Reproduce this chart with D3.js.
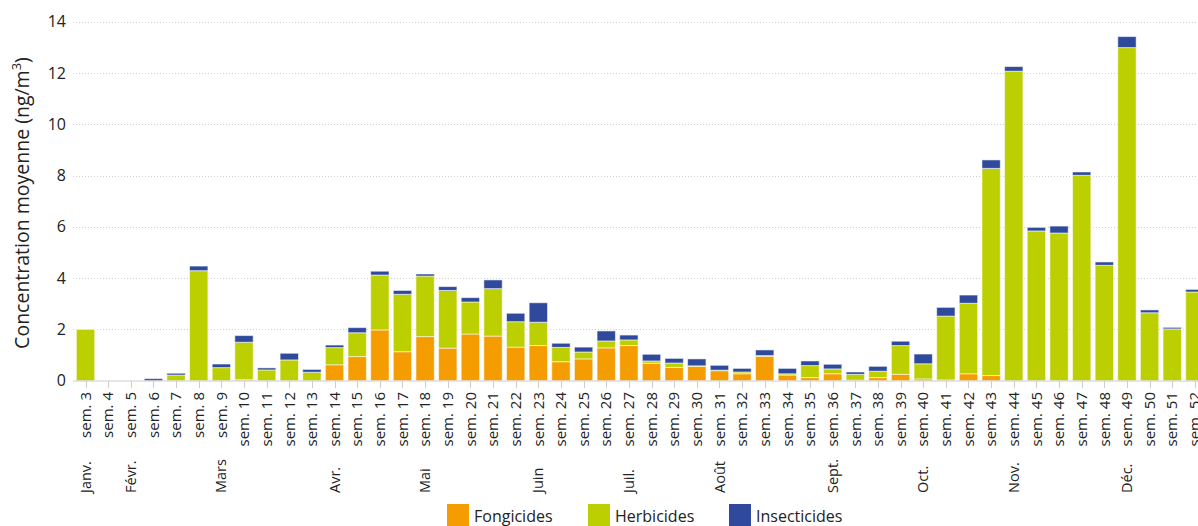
<!DOCTYPE html>
<html>
<head>
<meta charset="utf-8">
<script src="https://cdn.jsdelivr.net/npm/d3@7"></script>
<style>
  html, body { margin: 0; padding: 0; background: #fff; overflow: hidden; }
  svg { display: block; font-family: "Open Sans", "Noto Sans", sans-serif; }
</style>
</head>
<body>
<svg id="chart" width="1215" height="526"></svg>
<script>
// ---- data ----
const weeks = [3,4,5,6,7,8,9,10,11,12,13,14,15,16,17,18,19,20,21,22,23,24,25,26,27,28,29,30,31,32,33,34,35,36,37,38,39,40,41,42,43,44,45,46,47,48,49,50,51,52];
const weekLabels = weeks.map(w => "sem. " + w);
const fongicides = [0,0,0,0,0,0,0,0.04,0,0,0,0.62,0.94,1.98,1.13,1.72,1.27,1.82,1.74,1.31,1.37,0.74,0.85,1.28,1.37,0.68,0.52,0.56,0.39,0.27,0.95,0.22,0.12,0.27,0.02,0.12,0.25,0.07,0.03,0.27,0.20,0,0,0,0,0,0,0,0,0];
const herbicides = [2.0,0,0,0,0.22,4.29,0.51,1.46,0.42,0.81,0.33,0.67,0.93,2.14,2.24,2.36,2.25,1.25,1.85,0.99,0.91,0.56,0.27,0.27,0.22,0.09,0.17,0.02,0.02,0.07,0.03,0.05,0.47,0.19,0.23,0.25,1.12,0.59,2.49,2.75,8.08,12.07,5.84,5.76,8.01,4.50,12.99,2.65,2.02,3.46];
const insecticides = [0,0,0,0.08,0.07,0.18,0.14,0.26,0.08,0.26,0.11,0.10,0.20,0.15,0.15,0.08,0.15,0.17,0.34,0.33,0.76,0.16,0.19,0.39,0.19,0.26,0.18,0.27,0.19,0.14,0.22,0.21,0.18,0.18,0.09,0.19,0.17,0.38,0.34,0.32,0.33,0.18,0.14,0.27,0.13,0.13,0.43,0.11,0.06,0.10];
const seriesNames = ["Fongicides", "Herbicides", "Insecticides"];
const seriesColors = ["#F59C00", "#BCCF00", "#2F4A9C"];
const yTicks = [0,2,4,6,8,10,12,14];
const monthNames = ["Janv.","Févr.","Mars","Avr.","Mai","Juin","Juil.","Août","Sept.","Oct.","Nov.","Déc."];
const monthWeeks = [3,5,9,14,18,23,27,31,36,40,44,49];

// ---- build ----
const rows = weeks.map((w, i) => ({
  week: "sem. " + w,
  Fongicides: fongicides[i],
  Herbicides: herbicides[i],
  Insecticides: insecticides[i]
}));

const svg = d3.select("#chart");
const plotLeft = 73, plotRight = 1215;
const x0 = 74.2, x1 = 74.2 + 50 * 22.64;

const x = d3.scaleBand().domain(weekLabels).range([x0, x1]).paddingInner(0.19).paddingOuter(0.095);
const y = d3.scaleLinear().domain([0, 14]).range([380.7, 21.7]);
const color = d3.scaleOrdinal().domain(seriesNames).range(seriesColors);

// grid
svg.append("g").selectAll("line").data(yTicks.filter(t => t > 0)).join("line")
  .attr("x1", plotLeft).attr("x2", plotRight)
  .attr("y1", d => Math.round(y(d)) + 0.5).attr("y2", d => Math.round(y(d)) + 0.5)
  .attr("stroke", "#cfcfcf").attr("stroke-width", 1).attr("stroke-dasharray", "1,2");

// y labels
svg.append("g").selectAll("text").data(yTicks).join("text")
  .attr("x", 66).attr("y", d => y(d)).attr("dy", "0.35em")
  .attr("text-anchor", "end").attr("font-size", 16).attr("fill", "#222")
  .text(d => d);

// y title
const yt = svg.append("text")
  .attr("transform", "translate(29,203) rotate(-90)")
  .attr("text-anchor", "middle").attr("font-size", 19.5).attr("fill", "#222");
yt.append("tspan").text("Concentration moyenne (ng/m");
yt.append("tspan").attr("font-size", 13).attr("dy", "-0.6em").text("3");
yt.append("tspan").attr("dy", "0.4em").text(")");

// bars
const stack = d3.stack().keys(seriesNames);
const stacked = stack(rows);
svg.append("g").selectAll("g").data(stacked).join("g")
  .attr("fill", d => color(d.key))
  .selectAll("rect").data(d => d.filter(s => s[1] - s[0] > 0)).join("rect")
  .attr("x", d => x(d.data.week))
  .attr("width", x.bandwidth())
  .attr("y", d => y(d[1]))
  .attr("height", d => y(d[0]) - y(d[1]))
  .attr("stroke", "#ffffff").attr("stroke-opacity", 0.55).attr("stroke-width", 1);

// x axis line
svg.append("line").attr("x1", plotLeft).attr("x2", plotRight)
  .attr("y1", 381).attr("y2", 381).attr("stroke", "#cccccc").attr("stroke-width", 1.2);

// ticks
svg.append("g").selectAll("line").data(weekLabels).join("line")
  .attr("x1", d => Math.round(x(d) + x.bandwidth() / 2) + 0.5)
  .attr("x2", d => Math.round(x(d) + x.bandwidth() / 2) + 0.5)
  .attr("y1", 381).attr("y2", 388).attr("stroke", "#cccccc");

// week labels
svg.append("g").selectAll("text").data(weekLabels).join("text")
  .attr("transform", d => `translate(${x(d) + x.bandwidth() / 2},392) rotate(-90)`)
  .attr("dy", "0.35em").attr("text-anchor", "end")
  .attr("font-size", 15).attr("fill", "#222").text(d => d);

// month labels
svg.append("g").selectAll("text").data(monthNames).join("text")
  .attr("transform", (d, i) => `translate(${x("sem. " + monthWeeks[i]) + x.bandwidth() / 2},493) rotate(-90)`)
  .attr("dy", "0.35em").attr("text-anchor", "start")
  .attr("font-size", 14.5).attr("fill", "#222").text(d => d);

// legend
const legendX = [447, 588, 729];
const lg = svg.append("g").selectAll("g").data(seriesNames).join("g")
  .attr("transform", (d, i) => `translate(${legendX[i]},504)`);
lg.append("rect").attr("width", 22).attr("height", 22).attr("fill", d => color(d));
lg.append("text").attr("x", 27).attr("y", 12).attr("dy", "0.35em")
  .attr("font-size", 16).attr("fill", "#222").text(d => d);
</script>
</body>
</html>
